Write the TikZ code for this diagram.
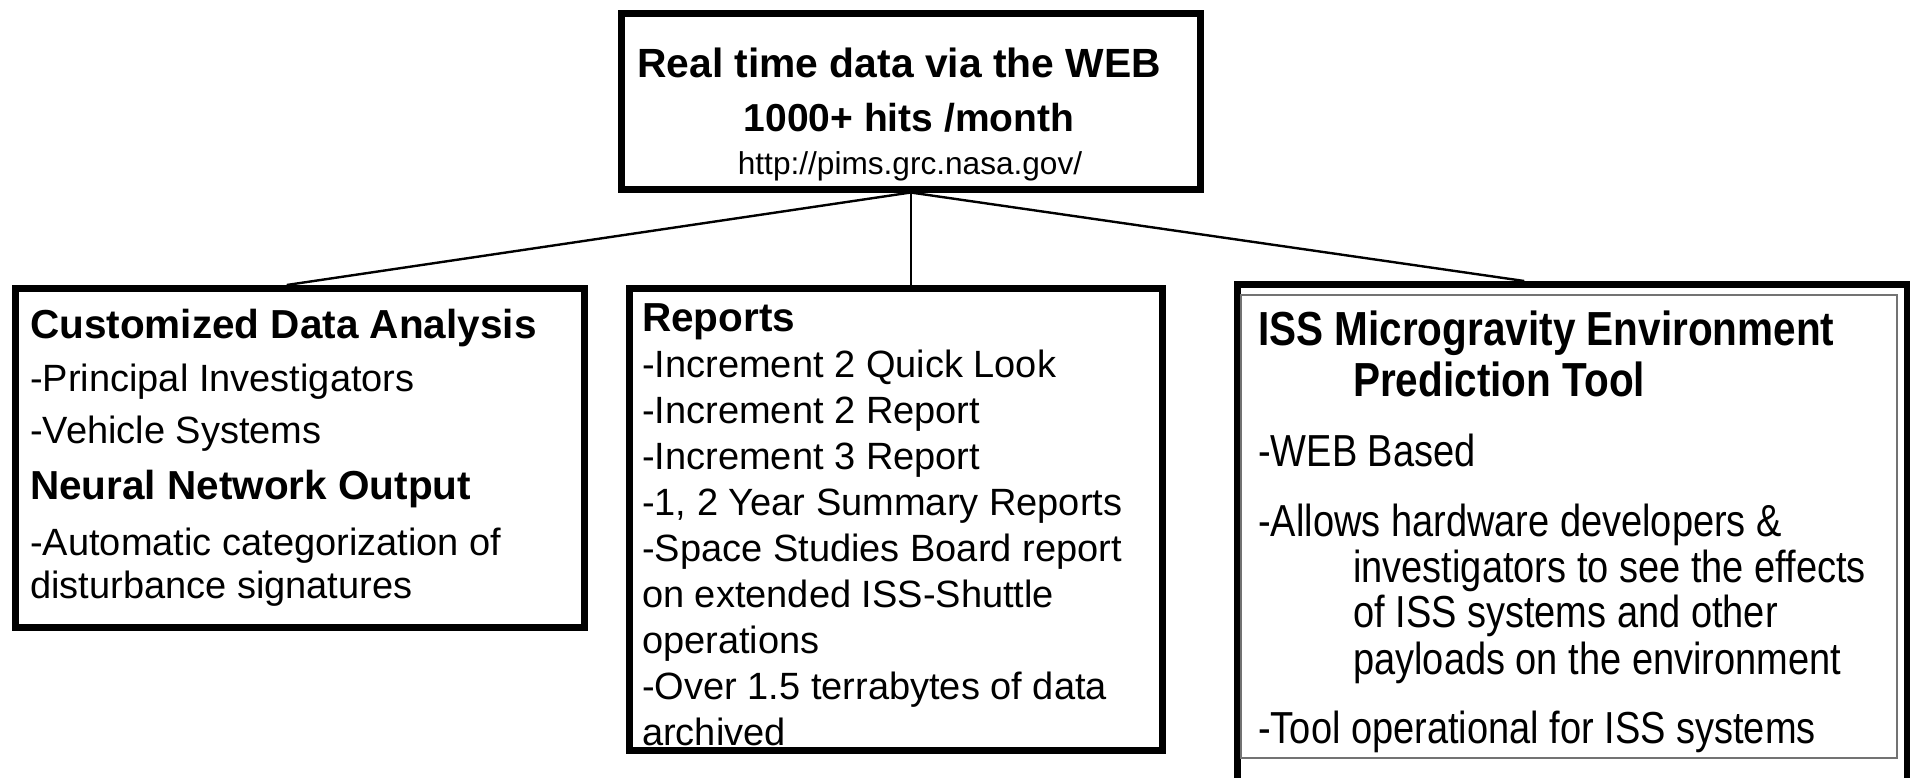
\documentclass[tikz,border=0pt]{standalone}
\usepackage{fontspec}
\setmainfont{Liberation Sans}
\newcommand\bodysz{\fontsize{38pt}{46pt}\selectfont}
\newcommand\headsz{\fontsize{40.5pt}{48pt}\selectfont\bfseries}
\newcommand\tall[1]{\scalebox{1}[1.18]{#1}}
\begin{document}
\begin{tikzpicture}[x=1pt,y=-1pt]
\tikzset{
  frame/.style={draw=black, line width=6.5pt, inner sep=0pt, anchor=north west},
  inner frame/.style={draw=black!55, line width=1.6pt, inner sep=0pt, anchor=north west},
  link/.style={draw=black, line width=2.4pt},
  body/.style={inner sep=0pt, anchor=base west, font=\bodysz},
  head/.style={inner sep=0pt, anchor=base west, font=\headsz},
  mid/.style={inner sep=0pt, anchor=base},
}
\useasboundingbox (0,0) rectangle (1910,777);

% --- top box: web site
\node[head, font=\fontsize{40.8pt}{48pt}\selectfont\bfseries] (web1) at (637,77) {Real time data via the WEB};
\node[mid, font=\fontsize{39pt}{48pt}\selectfont\bfseries] (web2) at (909,131) {1000+ hits /month};
\node[mid, font=\fontsize{31.6pt}{36pt}\selectfont] (web3) at (910,174) {http://pims.grc.nasa.gov/};

% --- left box: data analysis
\node[head] (cda1) at (30,338) {Customized Data Analysis};
\node[body] (cda2) at (30,391) {-Principal Investigators};
\node[body] (cda3) at (30,443) {-Vehicle Systems};
\node[head] (cda4) at (30,499) {Neural Network Output};
\node[body] (cda5) at (30,555) {-Automatic categorization of};
\node[body] (cda6) at (30,598) {disturbance signatures};

% --- middle box: reports
\node[head] (rep1) at (642,331) {Reports};
\foreach \t [count=\i from 2] in {
    {-Increment 2 Quick Look},
    {-Increment 2 Report},
    {-Increment 3 Report},
    {-1, 2 Year Summary Reports},
    {-Space Studies Board report},
    {on extended ISS-Shuttle},
    {operations},
    {-Over 1.5 terrabytes of data},
    {archived}}
  \node[body] (rep\i) at (642,{331+46*(\i-1)}) {\t};

% --- right box: prediction tool
\node[head] (iss1) at (1258,345) {\tall{ISS Microgravity Environment}};
\node[head] (iss2) at (1353,396) {\tall{Prediction Tool}};
\node[body] (iss3) at (1258,466) {\tall{-WEB Based}};
\node[body] (iss4) at (1258,536) {\tall{-Allows hardware developers \&}};
\node[body] (iss5) at (1353,582) {\tall{investigators to see the effects}};
\node[body] (iss6) at (1353,627) {\tall{of ISS systems and other}};
\node[body] (iss7) at (1353,674) {\tall{payloads on the environment}};
\node[body] (iss8) at (1258,743) {\tall{-Tool operational for ISS systems}};

% --- frames
\node[frame, minimum width=579pt, minimum height=176pt] (web) at (618,10) {};
\node[frame, minimum width=569pt, minimum height=339pt] (cda) at (12,285) {};
\node[frame, minimum width=533pt, minimum height=462pt] (rep) at (626,285) {};
\node[frame, minimum width=670pt, minimum height=520pt] (iss) at (1234,281) {};
\node[inner frame, minimum width=656pt, minimum height=463pt] (issin) at (1240,294) {};

% --- connectors
\draw[link] (web.south) -- ([xshift=-13pt]cda.north);
\draw[link] (web.south) -- (web.south |- rep.north);
\draw[link] (web.south) -- ([xshift=-48pt]iss.north);
\end{tikzpicture}
\end{document}
